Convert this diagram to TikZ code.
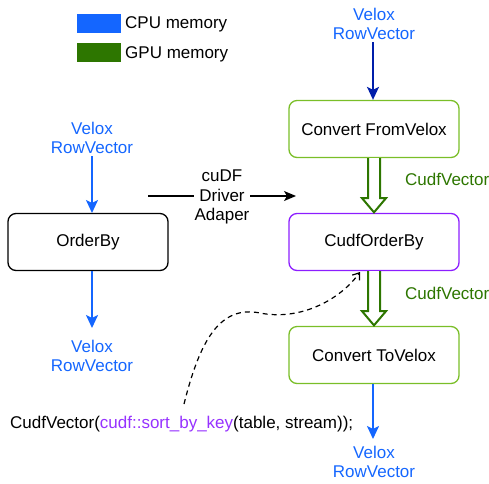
\documentclass[tikz,border=0pt]{standalone}
\usepackage{fontspec}
\setmainfont{Liberation Sans}
\usetikzlibrary{arrows.meta,calc}
\definecolor{cpublue}{RGB}{20,102,255}
\definecolor{navy}{RGB}{0,30,170}
\definecolor{gpugreen}{RGB}{45,118,0}
\definecolor{lime}{RGB}{122,190,40}
\definecolor{violet}{RGB}{140,30,255}
\definecolor{violettext}{RGB}{150,50,255}
\tikzset{
  txt/.style={font=\fontsize{17}{19.5}\selectfont, inner sep=0pt, align=center},
  boxbase/.style={txt, draw, rounded corners=8pt, line width=1.3pt, minimum width=170pt, minimum height=57pt},
  limebox/.style={boxbase, draw=lime},
  violetbox/.style={boxbase, draw=violet},
  blackbox/.style={boxbase, draw=black, minimum width=160pt},
  bluearrow/.style={draw=cpublue, line width=2pt, -{Stealth[length=13pt,width=12pt,inset=3pt]}},
  navyarrow/.style={draw=navy, line width=2pt, -{Stealth[length=13pt,width=12pt,inset=3pt]}},
  hollow/.style={draw=gpugreen, line width=2pt, fill=white, line join=miter},
  bluetxt/.style={txt, text=cpublue},
  greentxt/.style={txt, text=gpugreen, anchor=west},
}
\begin{document}
\begin{tikzpicture}[x=1pt,y=-1pt]
\useasboundingbox (0,0) rectangle (489,483);
% legend
\node[fill=cpublue, minimum width=44pt, minimum height=19pt, inner sep=0pt] (lcpu) at (99,23.5) {};
\node[fill=gpugreen, minimum width=44pt, minimum height=19pt, inner sep=0pt] (lgpu) at (99,52.5) {};
\node[txt, anchor=west] (lcput) at (125,24) {CPU memory};
\node[txt, anchor=west] (lgput) at (125,54) {GPU memory};
% left column
\node[bluetxt] (lin) at (92,138) {Velox\\RowVector};
\node[blackbox] (ob) at (88,242) {OrderBy};
\node[bluetxt] (lout) at (92,356) {Velox\\RowVector};
\coordinate (linb) at (92,156);
\coordinate (lint) at (92,213);
\coordinate (lob) at (92,271);
\coordinate (loutt) at (92,328);
\draw[bluearrow] (linb) -- (lint);
\draw[bluearrow] (lob) -- (loutt);
% right column
\node[bluetxt] (rin) at (374,24) {Velox\\RowVector};
\node[limebox] (cfv) at (374,129) {Convert FromVelox};
\node[violetbox] (cob) at (374,242) {CudfOrderBy};
\node[limebox] (ctv) at (374,355) {Convert ToVelox};
\node[bluetxt] (rout) at (374,462) {Velox\\RowVector};
\coordinate (rinb) at (373,42);
\draw[navyarrow] (rinb) -- (cfv.north -| rinb);
\coordinate (routt) at (373,439);
\draw[bluearrow] (ctv.south -| routt) -- (routt);
% hollow arrows
\draw[hollow] ($(cfv.south)+(-6,0)$) -- ++(0,40) -- ++(-6,0) -- ($(cob.north)+(0,-0.5)$) -- ($(cfv.south)+(12,40)$) -- ++(-6,0) -- ($(cfv.south)+(6,0)$);
\draw[hollow] ($(cob.south)+(-6,0)$) -- ++(0,40) -- ++(-6,0) -- ($(ctv.north)+(0,-0.5)$) -- ($(cob.south)+(12,40)$) -- ++(-6,0) -- ($(cob.south)+(6,0)$);
\node[greentxt] (cv1) at (405,179) {CudfVector};
\node[greentxt] (cv2) at (405,293) {CudfVector};
% driver adapter
\coordinate (da1) at (148,196);
\coordinate (da2) at (296,196);
\draw[line width=1.3pt, -{Stealth[length=12pt,width=10pt,inset=3pt]}] (da1) -- (da2);
\node[txt, fill=white, inner sep=1pt] (da) at (222,197) {cuDF\\Driver\\Adaper};
% code
\node[txt, anchor=west] (code) at (10,424) {CudfVector(\textcolor{violettext}{cudf::sort\_by\_key}(table, stream));};
\coordinate (cs) at (184,404);
\coordinate (ce) at (360,272);
\draw[line width=1.2pt, dashed, dash pattern=on 5pt off 4pt, -{Straight Barb[length=6pt,width=9pt]}] (cs) .. controls (200,340) and (220,305) .. (260,313) .. controls (300,321) and (340,300) .. (ce);
\end{tikzpicture}
\end{document}
